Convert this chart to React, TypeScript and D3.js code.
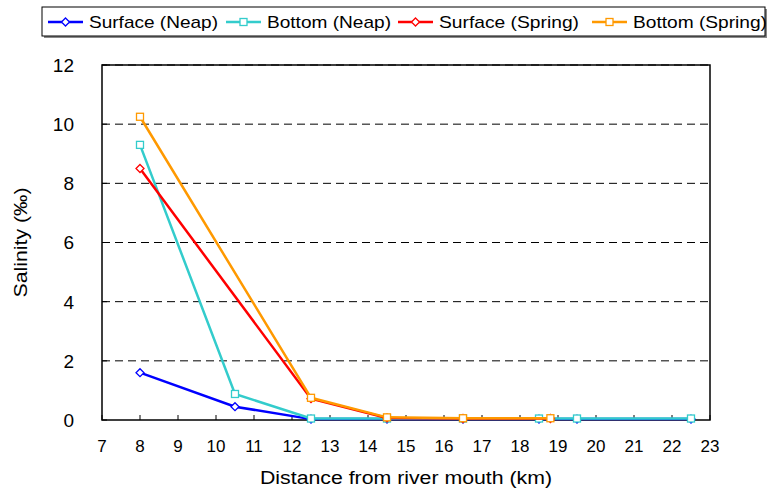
import React from "react";
import * as d3 from "d3";

const W = 767;
const H = 493;

const neapDistance = [8, 10.5, 12.5, 14.5, 16.5, 18.5, 19.5, 22.5];
const surfaceNeap = [1.6, 0.45, 0.03, 0.03, 0.03, 0.03, 0.03, 0.03];
const bottomNeap = [9.3, 0.88, 0.05, 0.05, 0.05, 0.05, 0.05, 0.05];

const springDistance = [8, 12.5, 14.5, 16.5, 18.8];
const surfaceSpring = [8.5, 0.72, 0.07, 0.05, 0.05];
const bottomSpring = [10.25, 0.75, 0.09, 0.06, 0.06];

const xTicks = d3.range(7, 24, 1);
const yTicks = [0, 2, 4, 6, 8, 10, 12];

type Series = { name: string; color: string; marker: "diamond" | "square"; xs: number[]; ys: number[] };

const series: Series[] = [
  { name: "Surface (Neap)", color: "#0000ff", marker: "diamond", xs: neapDistance, ys: surfaceNeap },
  { name: "Bottom (Neap)", color: "#33cccc", marker: "square", xs: neapDistance, ys: bottomNeap },
  { name: "Surface (Spring)", color: "#ff0000", marker: "diamond", xs: springDistance, ys: surfaceSpring },
  { name: "Bottom (Spring)", color: "#ff9900", marker: "square", xs: springDistance, ys: bottomSpring },
];

const legendX = [48, 226, 398, 592];
const legendTextW = [129, 124, 140, 134];

const M = { left: 102, right: 710, top: 65, bottom: 420 };
const FONT = "'Liberation Sans', Arial, sans-serif";

function Marker({ type, x, y, color }: { type: string; x: number; y: number; color: string }) {
  if (type === "diamond") {
    const r = 4;
    return (
      <path
        d={`M${x},${y - r}L${x + r},${y}L${x},${y + r}L${x - r},${y}Z`}
        fill="white"
        stroke={color}
        strokeWidth={1.3}
      />
    );
  }
  const s = 3.5;
  return <rect x={x - s} y={y - s} width={2 * s} height={2 * s} fill="white" stroke={color} strokeWidth={1.3} />;
}

export default function App() {
  const x = d3.scaleLinear().domain([7, 23]).range([M.left, M.right]);
  const y = d3.scaleLinear().domain([0, 12]).range([M.bottom, M.top]);
  const line = d3
    .line<[number, number]>()
    .x((d) => x(d[0]))
    .y((d) => y(d[1]));

  return (
    <svg width={W} height={H} style={{ position: "absolute", left: 0, top: 0, background: "white" }} fontFamily={FONT}>
      {/* plot frame */}
      <rect x={M.left} y={M.top} width={M.right - M.left} height={M.bottom - M.top} fill="none" stroke="#000" strokeWidth={1.5} />
      {/* grid */}
      {yTicks.slice(1).map((t) => (
        <line key={t} x1={M.left} x2={M.right} y1={y(t)} y2={y(t)} stroke="#000" strokeWidth={1} strokeDasharray="8,5" />
      ))}
      {/* y ticks */}
      {yTicks.map((t) => (
        <g key={"y" + t}>
          <line x1={M.left} x2={M.left + 5} y1={y(t)} y2={y(t)} stroke="#000" strokeWidth={1} />
          <text x={74} y={y(t)} dy="0.36em" textAnchor="end" fontSize={19}>
            {t}
          </text>
        </g>
      ))}
      {/* x ticks */}
      {xTicks.map((t) => (
        <g key={"x" + t}>
          <line x1={x(t)} x2={x(t)} y1={M.bottom} y2={M.bottom - 5} stroke="#000" strokeWidth={1} />
          <text x={x(t)} y={446} dy="0.36em" textAnchor="middle" fontSize={17}>
            {t}
          </text>
        </g>
      ))}
      <text x={406} y={478} dy="0.36em" textAnchor="middle" fontSize={18} textLength={292} lengthAdjust="spacingAndGlyphs">
        Distance from river mouth (km)
      </text>
      <text
        transform={`translate(21,${y(6)}) rotate(-90)`}
        dy="0.36em"
        textAnchor="middle"
        fontSize={18}
        textLength={110}
        lengthAdjust="spacingAndGlyphs"
      >
        Salinity (‰)
      </text>
      {/* series */}
      {series.map((s) => {
        const pts = s.xs.map((v, i) => [v, s.ys[i]] as [number, number]);
        return (
          <g key={s.name}>
            <path d={line(pts) || ""} fill="none" stroke={s.color} strokeWidth={2.5} />
            {pts.map((p, i) => (
              <Marker key={i} type={s.marker} x={x(p[0])} y={y(p[1])} color={s.color} />
            ))}
          </g>
        );
      })}
      {/* legend */}
      <rect x={44} y={9} width={723} height={29} fill="#888" />
      <rect x={42} y={7} width={723} height={29} fill="white" stroke="#000" strokeWidth={1} />
      {series.map((s, i) => {
        const lx = legendX[i];
        const cy = 22;
        return (
          <g key={"l" + s.name}>
            <line x1={lx} x2={lx + 35} y1={cy} y2={cy} stroke={s.color} strokeWidth={2.5} />
            <Marker type={s.marker} x={lx + 17.5} y={cy} color={s.color} />
            <text x={lx + 41} y={cy} dy="0.36em" fontSize={17} textLength={legendTextW[i]} lengthAdjust="spacingAndGlyphs">
              {s.name}
            </text>
          </g>
        );
      })}
    </svg>
  );
}
